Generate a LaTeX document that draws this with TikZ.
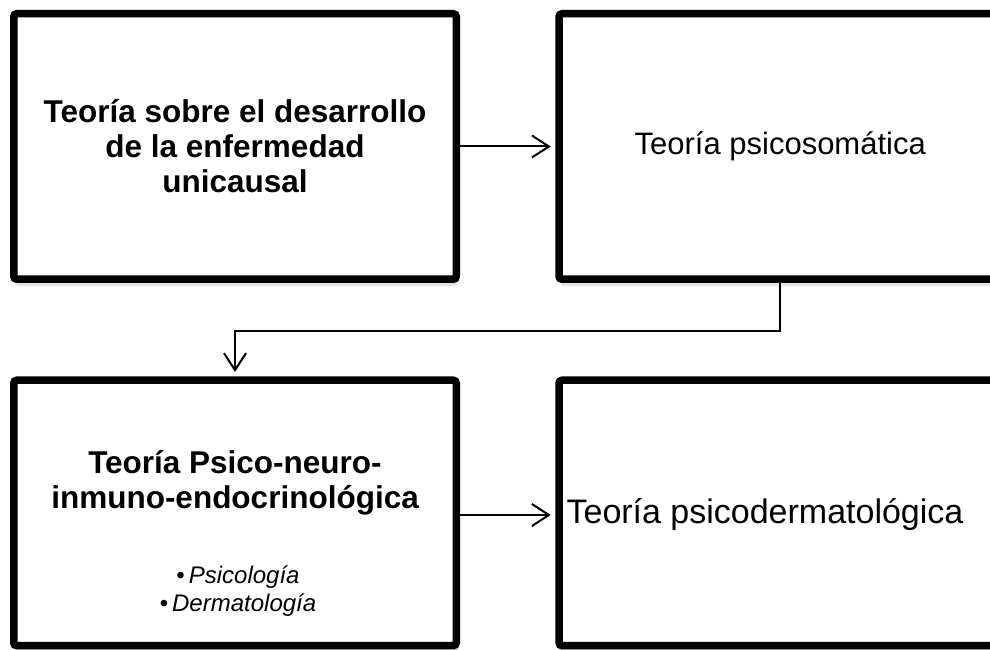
\documentclass[tikz,border=0pt]{standalone}
\usepackage{fontspec}
\setmainfont{Liberation Sans}
\usepackage{xcolor}
\definecolor{theory-line}{HTML}{000000}
\definecolor{theory-shadow}{HTML}{6F6F6F}
\usetikzlibrary{arrows.meta,shadows}

\tikzset{
    theorybox/.style={draw=theory-line, line width=7.5pt, rounded corners=3pt, fill=white,
        minimum width=442.5pt, minimum height=265.5pt, inner sep=0pt,
        drop shadow={shadow xshift=2pt, shadow yshift=-7pt, opacity=0.18, fill=theory-shadow}},
    bigtext/.style={font=\fontsize{31}{35}\selectfont, align=center},
    smalltext/.style={font=\fontsize{24}{28}\selectfont\itshape, align=center},
    link/.style={draw=theory-line, line width=2pt,
        -{Straight Barb[length=17pt, width=22pt, line width=2pt]}, shorten >=4.5pt}
}

\begin{document}
\begin{tikzpicture}[x=1pt, y=1pt]

    % Frame
    \useasboundingbox (0, 0) rectangle (990, 650);
    \clip (0, 0) rectangle (990, 650);

    % Upper boxes
    \node[theorybox, bigtext, font=\bfseries\fontsize{31.5}{35}\selectfont] (unicausal) at (235, 503.5)
        {Teoría sobre el desarrollo\\de la enfermedad\\unicausal};
    \node[theorybox, bigtext] (psicosomatica) at (780.25, 503.5) {Teoría psicosomática};

    % Lower boxes
    \node[theorybox] (pnie) at (235, 137) {};
    \node[bigtext, font=\bfseries\fontsize{31.5}{35}\selectfont] (pnietitle) at (235, 167)
        {Teoría Psico-neuro-\\inmuno-endocrinológica};
    \node[smalltext] (pnieitems) at (238, 59)
        {{\upshape\textbullet}\,Psicología\\{\upshape\textbullet}\,Dermatología};
    \node[theorybox] (psicoderm) at (780.25, 137) {};
    \node[bigtext, font=\fontsize{34}{38}\selectfont] (psicodermtext) at (765, 135)
        {Teoría psicodermatológica};

    % Arrows
    \draw[link] (unicausal.east) -- (psicosomatica.west);
    \draw[link] (psicosomatica.south) -- ++(0, -48) -| (pnie.north);
    \draw[link] (unicausal.east |- psicodermtext) -- (psicoderm.west |- psicodermtext);

\end{tikzpicture}
\end{document}
